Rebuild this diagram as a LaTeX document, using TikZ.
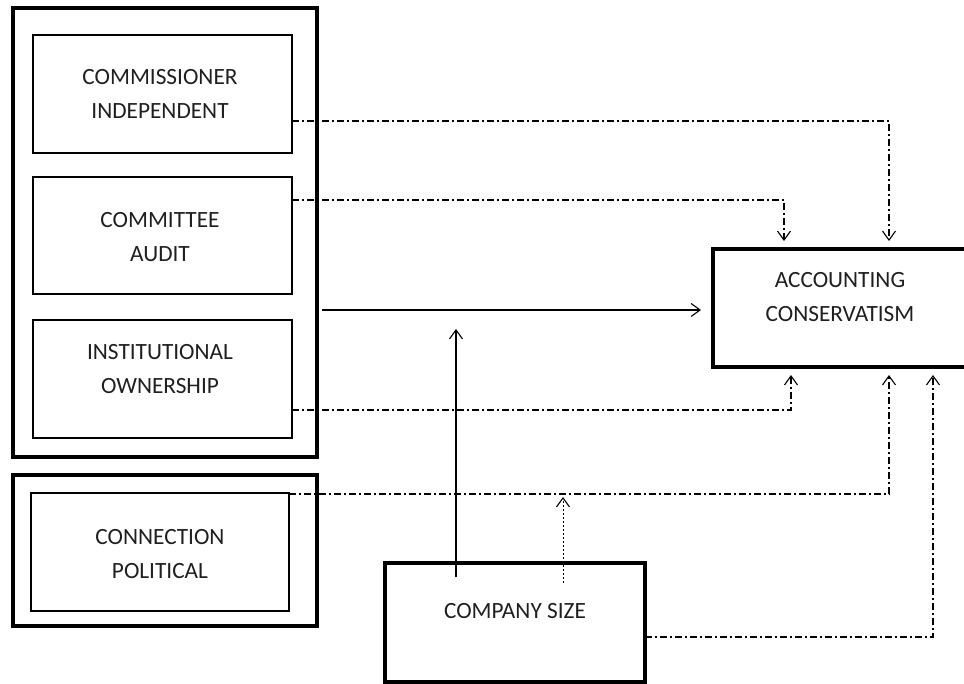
\documentclass[tikz,border=0pt]{standalone}
\usepackage{fontspec}
\setmainfont{Carlito}
\usetikzlibrary{arrows.meta}
\begin{document}
\begin{tikzpicture}[x=1pt,y=-1pt,
  obox/.style={draw, line width=3.2pt, inner sep=0pt, outer sep=0pt, anchor=north west},
  ibox/.style={draw, line width=2.8pt, inner sep=0pt, outer sep=0pt, anchor=north west},
  lbl/.style={anchor=north, inner sep=0pt, align=center, text=black!88,
    font=\fontsize{23.3}{33.5}\selectfont},
  tip/.style={-{Straight Barb[length=9pt,width=13pt,line width=1.1pt]}},
  dd/.style={line width=1.1pt, dash pattern=on 7pt off 3pt on 2pt off 3pt, tip},
  sl/.style={line width=1.2pt, tip},
  dt/.style={line width=1pt, dash pattern=on 2.5pt off 1.5pt, tip}]
\useasboundingbox (0,0) rectangle (964,684);
\begin{scope}
\clip (0,0) rectangle (964,684);
% outer group boxes
\node[obox, minimum width=304pt, minimum height=449pt] (o1) at (13,8) {};
\node[obox, minimum width=304pt, minimum height=151pt] (o2) at (13,475) {};
% inner boxes
\node[ibox, minimum width=259pt, minimum height=118pt] (ci) at (33,35) {};
\node[ibox, minimum width=259pt, minimum height=117pt] (ca) at (33,177) {};
\node[ibox, minimum width=259pt, minimum height=118pt] (io) at (33,320) {};
\node[ibox, minimum width=258pt, minimum height=118pt] (cp) at (31,493) {};
\node[obox, minimum width=256pt, minimum height=118pt] (ac) at (713,249) {};
\node[obox, minimum width=260pt, minimum height=119pt] (cs) at (385,563) {};
\end{scope}
% labels
\node[lbl] (tci) at (160,69.2) {COMMISSIONER\\INDEPENDENT};
\node[lbl] (tca) at (160,212.2) {COMMITTEE\\AUDIT};
\node[lbl] (tio) at (160,344.2) {INSTITUTIONAL\\OWNERSHIP};
\node[lbl] (tcp) at (160,529.2) {CONNECTION\\POLITICAL};
\node[lbl] (tac) at (840,272.2) {ACCOUNTING\\CONSERVATISM};
\node[lbl] (tcs) at (515,603.2) {COMPANY SIZE};
% arrow targets
\coordinate (at1) at (784,241);
\coordinate (at2) at (889,241);
\coordinate (ab1) at (791,375);
\coordinate (ab2) at (889,375);
\coordinate (ab3) at (933,375);
\coordinate (m1) at (456,329);
\coordinate (m2) at (563,497);
% connectors
\draw[dd] (ci.east |- 0,121) -| (at2);
\draw[dd] (ca.east |- 0,200) -| (at1);
\draw[sl, shorten <=5pt, shorten >=12pt] (o1.east |- 0,310) -- (ac.west |- 0,310);
\draw[dd] (io.east |- 0,410) -| (ab1);
\draw[dd] (cp.north east) ++(0,1) -| (ab2);
\draw[dd] (cs.east |- 0,637) -| (ab3);
\draw[sl] ([shift={(71,14)}]cs.north west) -- (m1);
\draw[dt] ([shift={(178,20)}]cs.north west) -- (m2);
\end{tikzpicture}
\end{document}
